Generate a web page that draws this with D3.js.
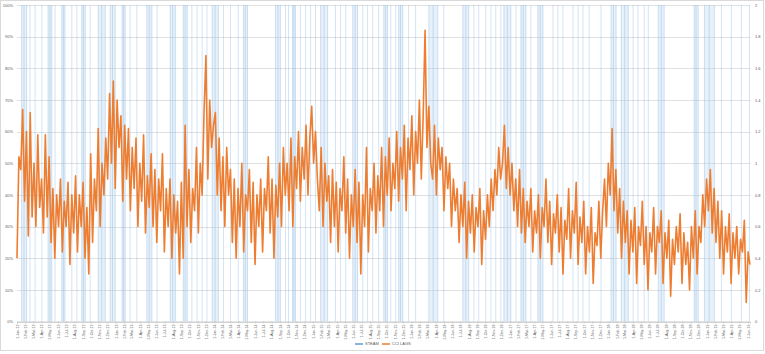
<!DOCTYPE html>
<html>
<head>
<meta charset="utf-8">
<script src="https://cdn.jsdelivr.net/npm/d3@7/dist/d3.min.js"></script>
<style>
  body { margin: 0; background: #fff; }
  text { font-family: "Liberation Sans", Arial, sans-serif; fill: #595959; }
</style>
</head>
<body>
<svg width="765" height="354"></svg>
<script>
// weekly CCI LAGS readings (%), starting 1-Jan-12
var startDate = new Date(2012, 0, 1);
var cciLags = [
  20, 52, 48, 67, 38, 60, 27, 66, 33, 50,
  30, 59, 36, 45, 28, 59, 33, 52, 25, 42,
  20, 40, 30, 45, 22, 38, 30, 44, 18, 40,
  28, 46, 22, 40, 30, 44, 20, 36, 15, 53,
  25, 45, 35, 61, 30, 50, 40, 58, 45, 72,
  50, 76, 42, 70, 55, 65, 38, 62, 45, 61,
  35, 55, 42, 58, 30, 50, 38, 59, 28, 46,
  36, 53, 30, 48, 25, 45, 35, 53, 22, 42,
  30, 45, 20, 40, 28, 38, 15, 44, 20, 62,
  30, 48, 25, 42, 35, 55, 28, 50, 40, 66,
  84, 45, 70, 55, 62, 66, 40, 58, 35, 52,
  30, 55, 40, 48, 25, 45, 20, 42, 30, 50,
  22, 40, 35, 48, 25, 44, 18, 40, 30, 45,
  22, 42, 35, 52, 28, 45, 20, 43, 33, 50,
  30, 55, 40, 50, 35, 58, 30, 52, 42, 60,
  38, 55, 45, 62, 40, 58, 68, 50, 60, 45,
  35, 55, 30, 50, 38, 46, 25, 48, 30, 44,
  22, 42, 35, 52, 28, 45, 20, 40, 30, 48,
  25, 44, 15, 40, 30, 55, 22, 42, 35, 50,
  28, 46, 35, 55, 30, 52, 40, 58, 35, 50,
  42, 60, 38, 55, 45, 62, 35, 58, 48, 65,
  40, 60, 50, 70, 45, 65, 92, 55, 68, 50,
  45, 62, 40, 58, 48, 55, 35, 52, 42, 50,
  30, 45, 35, 42, 25, 40, 30, 44, 20, 38,
  28, 40, 22, 36, 30, 42, 18, 35, 26, 40,
  30, 45, 35, 48, 40, 55, 45, 50, 62, 42,
  55, 40, 50, 35, 45, 30, 48, 28, 42, 25,
  38, 30, 42, 22, 35, 28, 40, 20, 36, 30,
  45, 25, 38, 18, 34, 28, 40, 22, 36, 15,
  32, 26, 42, 20, 35, 28, 44, 18, 33, 25,
  38, 15, 30, 22, 36, 12, 28, 24, 38, 20,
  35, 45, 30, 50, 40, 61, 35, 48, 28, 42,
  20, 38, 25, 35, 15, 32, 22, 36, 12, 30,
  24, 38, 18, 30, 10, 28, 22, 36, 15, 30,
  25, 35, 12, 28, 20, 32, 8, 26, 18, 30,
  22, 34, 12, 28, 18, 25, 10, 30, 20, 35,
  15, 30, 25, 40, 30, 45, 35, 48, 28, 42,
  25, 38, 20, 35, 15, 30, 22, 34, 12, 28,
  20, 30, 15, 26, 22, 32, 6, 22, 18
];

// STEAM days (days after 1-Jan-12): single days and runs of days
var steamDays = [48, 67, 92, 141, 203, 222, 271, 419, 444, 519, 648, 667, 686, 704,
  765, 791, 820, 995, 1006, 1050, 1069, 1088, 1106, 1180, 1199, 1218, 1281, 1299,
  1318, 1340, 1385, 1403, 1451, 1477, 1581, 1693, 1711, 1737, 1756, 1774, 1793,
  1849, 1904, 1986, 2004, 2023, 2060, 2079, 2097, 2120, 2164, 2283, 2301, 2324,
  2339, 2610, 2647, 2684, 2714];
var steamRuns = [[17, 36], [115, 129], [166, 178], [240, 253], [301, 327], [345, 364],
  [389, 401], [481, 500], [568, 587], [616, 631], [723, 746], [839, 854], [958, 976],
  [1021, 1032], [1125, 1151], [1244, 1262], [1359, 1373], [1414, 1429], [1526, 1559],
  [1652, 1674], [1804, 1830], [1867, 1886], [1930, 1949], [2201, 2220], [2239, 2265],
  [2376, 2398], [2509, 2524], [2547, 2584]];

var leftTicks = d3.range(0, 1.01, 0.1);
var rightTicks = d3.range(0, 2.01, 0.2);

var svg = d3.select("svg"),
    margin = {top: 5, right: 15, bottom: 32.5, left: 17},
    width = +svg.attr("width") - margin.left - margin.right,
    height = +svg.attr("height") - margin.top - margin.bottom;

svg.append("rect")
    .attr("x", 0.5).attr("y", 0.5)
    .attr("width", 763).attr("height", 350)
    .attr("fill", "#fff").attr("stroke", "#d9d9d9");

var g = svg.append("g").attr("transform", "translate(" + margin.left + "," + margin.top + ")");

var data = cciLags.map(function(v, i) {
  return {date: d3.timeDay.offset(startDate, i * 7), value: v / 100};
});
var endDate = data[data.length - 1].date;

var x = d3.scaleTime().domain([startDate, endDate]).range([0, width]);
var y = d3.scaleLinear().domain([0, 1]).range([height, 0]);
var y2 = d3.scaleLinear().domain([0, 2]).range([height, 0]);

// gridlines
g.append("g")
  .selectAll("line")
  .data(leftTicks)
  .enter().append("line")
    .attr("x1", 0).attr("x2", width)
    .attr("y1", function(d) { return Math.round(y(d)) + 0.5; })
    .attr("y2", function(d) { return Math.round(y(d)) + 0.5; })
    .attr("stroke", "#d9d9d9").attr("stroke-width", 0.8);

// STEAM
var dayX = function(d) { return x(d3.timeDay.offset(startDate, d)); };

g.append("g")
  .selectAll("rect")
  .data(steamRuns)
  .enter().append("rect")
    .attr("x", function(d) { return dayX(d[0]); })
    .attr("width", function(d) { return dayX(d[1]) - dayX(d[0]); })
    .attr("y", y2(2)).attr("height", height - y2(2))
    .attr("fill", "#bdd7ee").attr("fill-opacity", 0.35);

var steamLines = steamDays.concat(
  d3.merge(steamRuns.map(function(r) { return [r[0], (r[0] + r[1]) / 2, r[1]]; })));

g.append("g")
  .selectAll("line")
  .data(steamLines)
  .enter().append("line")
    .attr("x1", dayX).attr("x2", dayX)
    .attr("y1", y2(2)).attr("y2", height)
    .attr("stroke", "#5b9bd5").attr("stroke-opacity", 0.3).attr("stroke-width", 0.9);

// CCI LAGS
g.append("path")
    .datum(data)
    .attr("fill", "none")
    .attr("stroke", "#ed7d31")
    .attr("stroke-width", 1.6)
    .attr("stroke-linejoin", "round")
    .attr("d", d3.line()
      .x(function(d) { return x(d.date); })
      .y(function(d) { return y(d.value); }));

// axes
var yAxis = g.append("g")
    .call(d3.axisLeft(y).tickValues(leftTicks).tickFormat(d3.format(".0%")).tickSize(0).tickPadding(4));
yAxis.select(".domain").remove();
yAxis.selectAll("text").attr("font-size", 4).attr("fill", "#595959");

var yAxis2 = g.append("g")
    .attr("transform", "translate(" + width + ",0)")
    .call(d3.axisRight(y2).tickValues(rightTicks).tickFormat(d3.format("~g")).tickSize(0).tickPadding(5));
yAxis2.select(".domain").remove();
yAxis2.selectAll("text").attr("font-size", 4).attr("fill", "#595959");

var months = d3.timeMonth.range(startDate, d3.timeDay.offset(endDate, 1));
var xAxis = g.append("g")
    .attr("transform", "translate(0," + height + ")")
    .call(d3.axisBottom(x).tickValues(months).tickFormat(d3.timeFormat("%-d-%b-%y")).tickSize(2));
xAxis.select(".domain").attr("stroke", "#bfbfbf").attr("stroke-width", 0.8);
xAxis.selectAll(".tick line").attr("stroke", "#bfbfbf").attr("stroke-width", 0.6);
xAxis.selectAll("text")
    .attr("font-size", 3.6)
    .attr("fill", "#595959")
    .attr("text-anchor", "end")
    .attr("transform", "rotate(-90)")
    .attr("x", -3).attr("y", 0).attr("dy", "0.35em");

// legend
var legend = svg.append("g").attr("transform", "translate(355,344)");
var items = [{name: "STEAM", color: "#5b9bd5"}, {name: "CCI LAGS", color: "#ed7d31"}];
var li = legend.selectAll("g").data(items).enter().append("g")
    .attr("transform", function(d, i) { return "translate(" + (i * 27) + ",0)"; });
li.append("line").attr("x1", 0).attr("x2", 8).attr("stroke", function(d) { return d.color; }).attr("stroke-width", 1.5);
li.append("text").attr("x", 10).attr("dy", "0.35em").attr("font-size", 4).text(function(d) { return d.name; });
</script>
</body>
</html>
